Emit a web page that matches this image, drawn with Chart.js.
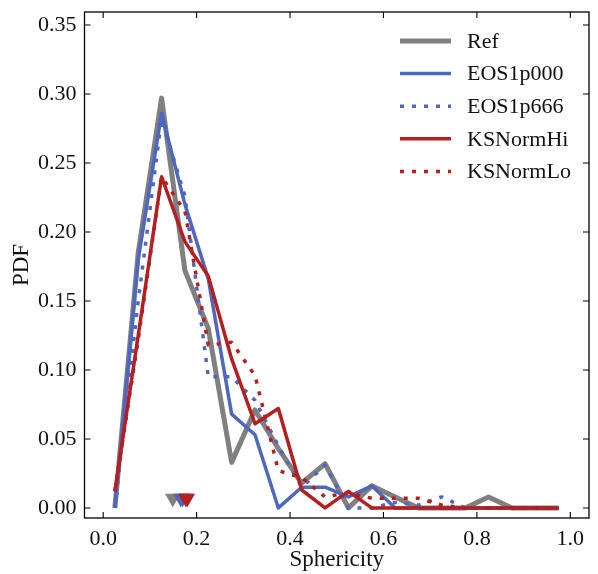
<!DOCTYPE html>
<html>
<head>
<meta charset="utf-8">
<script src="https://cdn.jsdelivr.net/npm/chart.js@4.4.1/dist/chart.umd.min.js"></script>
<style>
  html, body { margin:0; padding:0; background:#fff; }
</style>
</head>
<body>
<canvas id="grafico-esfericidade" width="598" height="574"></canvas>
<script>
// ---------------- dados ----------------
const centros = [0.025, 0.075, 0.125, 0.175, 0.225, 0.275, 0.325, 0.375, 0.425, 0.475,
                 0.525, 0.575, 0.625, 0.675, 0.725, 0.775, 0.825, 0.875, 0.925, 0.975];

const ref      = [0, 0.185, 0.297, 0.172, 0.130, 0.033, 0.071, 0.043, 0.018, 0.032,
                  0, 0.016, 0.008, 0, 0, 0, 0.008, 0, 0, 0];
const eos1p000 = [0, 0.180, 0.286, 0.220, 0.166, 0.068, 0.053, 0, 0.015, 0.015,
                  0.008, 0.016, 0, 0, 0, 0, 0, 0, 0, 0];
const eos1p666 = [0, 0.150, 0.282, 0.226, 0.095, 0.095, 0.078, 0.045, 0.015, 0.031,
                  0, 0, 0.004, 0.002, 0.008, 0, 0, 0, 0, 0];
const ksHi     = [0.012, 0.125, 0.240, 0.193, 0.168, 0.108, 0.061, 0.072, 0.013, 0,
                  0.012, 0, 0, 0, 0, 0, 0, 0, 0, 0];
const ksLo     = [0.012, 0.122, 0.240, 0.215, 0.118, 0.120, 0.096, 0.027, 0.022, 0.008,
                  0.011, 0.007, 0.007, 0.007, 0.002, 0, 0, 0, 0, 0];

const nomes    = ['Ref', 'EOS1p000', 'EOS1p666', 'KSNormHi', 'KSNormLo'];
const medianas = [0.149, 0.166, 0.170, 0.177, 0.180];
const yMarcas  = 0.007;

const xTicks = [0, 0.2, 0.4, 0.6, 0.8, 1.0];
const yTicks = [0, 0.05, 0.10, 0.15, 0.20, 0.25, 0.30, 0.35];

// ---------------- estilos ----------------
const CINZA = '#808080';
const AZUL  = '#4e67bf';
const VERM  = '#b51f1f';
const FONTE = "'Liberation Serif', 'DejaVu Serif', serif";

const series = [ref, eos1p000, eos1p666, ksHi, ksLo];
const cores  = [CINZA, AZUL, AZUL, VERM, VERM];
const largs  = [5, 3.5, 3.5, 3.5, 3.5];
const tracos = [[], [], [4, 8], [], [4, 8]];

const linhas = series.map((s, i) => ({
  label: nomes[i],
  data: centros.map((x, j) => ({ x, y: s[j] })),
  borderColor: cores[i],
  borderWidth: largs[i],
  borderDash: tracos[i],
  borderCapStyle: 'butt',
  borderJoinStyle: 'round',
  pointRadius: 0,
  tension: 0,
  fill: false,
  order: 10 - i
}));

const marcas = medianas.map((m, i) => ({
  label: nomes[i] + ' mediana',
  data: [{ x: m, y: yMarcas }],
  showLine: false,
  pointStyle: 'triangle',
  rotation: 180,
  pointRadius: 9,
  pointBorderWidth: 0,
  pointBackgroundColor: cores[i],
  pointBorderColor: cores[i],
  order: 5 - i
}));

// ---------------- moldura + ticks para dentro + legenda ----------------
const molduraPlugin = {
  id: 'moldura',
  afterDraw(chart) {
    const { ctx, chartArea: a, scales } = chart;
    ctx.save();
    ctx.strokeStyle = '#000';
    ctx.lineWidth = 1.3;
    ctx.strokeRect(a.left, a.top, a.right - a.left, a.bottom - a.top);
    const tl = 6;
    ctx.lineWidth = 1.1;
    ctx.beginPath();
    xTicks.forEach(v => {
      const px = scales.x.getPixelForValue(v);
      ctx.moveTo(px, a.bottom); ctx.lineTo(px, a.bottom - tl);
      ctx.moveTo(px, a.top);    ctx.lineTo(px, a.top + tl);
    });
    yTicks.forEach(v => {
      const py = scales.y.getPixelForValue(v);
      ctx.moveTo(a.left, py);  ctx.lineTo(a.left + tl, py);
      ctx.moveTo(a.right, py); ctx.lineTo(a.right - tl, py);
    });
    ctx.stroke();

    // legenda
    ctx.font = '22px ' + FONTE;
    ctx.textBaseline = 'middle';
    ctx.textAlign = 'left';
    nomes.forEach((nome, i) => {
      const ds = chart.data.datasets[i];
      const y = 41 + i * 32.6;
      ctx.beginPath();
      ctx.strokeStyle = ds.borderColor;
      ctx.lineWidth = ds.borderWidth;
      ctx.lineCap = 'butt';
      ctx.setLineDash(ds.borderDash);
      ctx.moveTo(400, y); ctx.lineTo(451, y);
      ctx.stroke();
      ctx.setLineDash([]);
      ctx.fillStyle = '#111';
      ctx.fillText(nome, 467, y + 1);
    });
    ctx.restore();
  }
};

new Chart(document.getElementById('grafico-esfericidade'), {
  type: 'line',
  data: { datasets: [...linhas, ...marcas] },
  options: {
    responsive: false,
    animation: false,
    events: [],
    layout: { padding: { top: 12, right: 1, left: 0, bottom: 0 } },
    plugins: { legend: { display: false }, tooltip: { enabled: false } },
    scales: {
      x: {
        type: 'linear', min: -0.04, max: 1.04,
        grid: { display: false, drawTicks: false },
        border: { display: false },
        afterBuildTicks: s => { s.ticks = xTicks.map(v => ({ value: v })); },
        afterFit: s => { s.height = 56; s.paddingLeft = 0; s.paddingRight = 0; },
        ticks: {
          padding: 8, color: '#111', font: { family: FONTE, size: 22 },
          maxRotation: 0, autoSkip: false,
          callback: v => Number(v).toFixed(1)
        },
        title: {
          display: true, text: 'Sphericity', color: '#111',
          font: { family: FONTE, size: 23 }, padding: { top: 0, bottom: 0 }
        }
      },
      y: {
        type: 'linear', min: -0.0073, max: 0.3594,
        grid: { display: false, drawTicks: false },
        border: { display: false },
        afterBuildTicks: s => { s.ticks = yTicks.map(v => ({ value: v })); },
        afterFit: s => { s.width = 84.5; s.paddingTop = 0; s.paddingBottom = 0; },
        ticks: {
          padding: 8, color: '#111', font: { family: FONTE, size: 22 },
          autoSkip: false,
          callback: v => Number(v).toFixed(2)
        },
        title: {
          display: true, text: 'PDF', color: '#111',
          font: { family: FONTE, size: 23 }, padding: { top: 8, bottom: 0 }
        }
      }
    }
  },
  plugins: [molduraPlugin]
});
</script>
</body>
</html>
